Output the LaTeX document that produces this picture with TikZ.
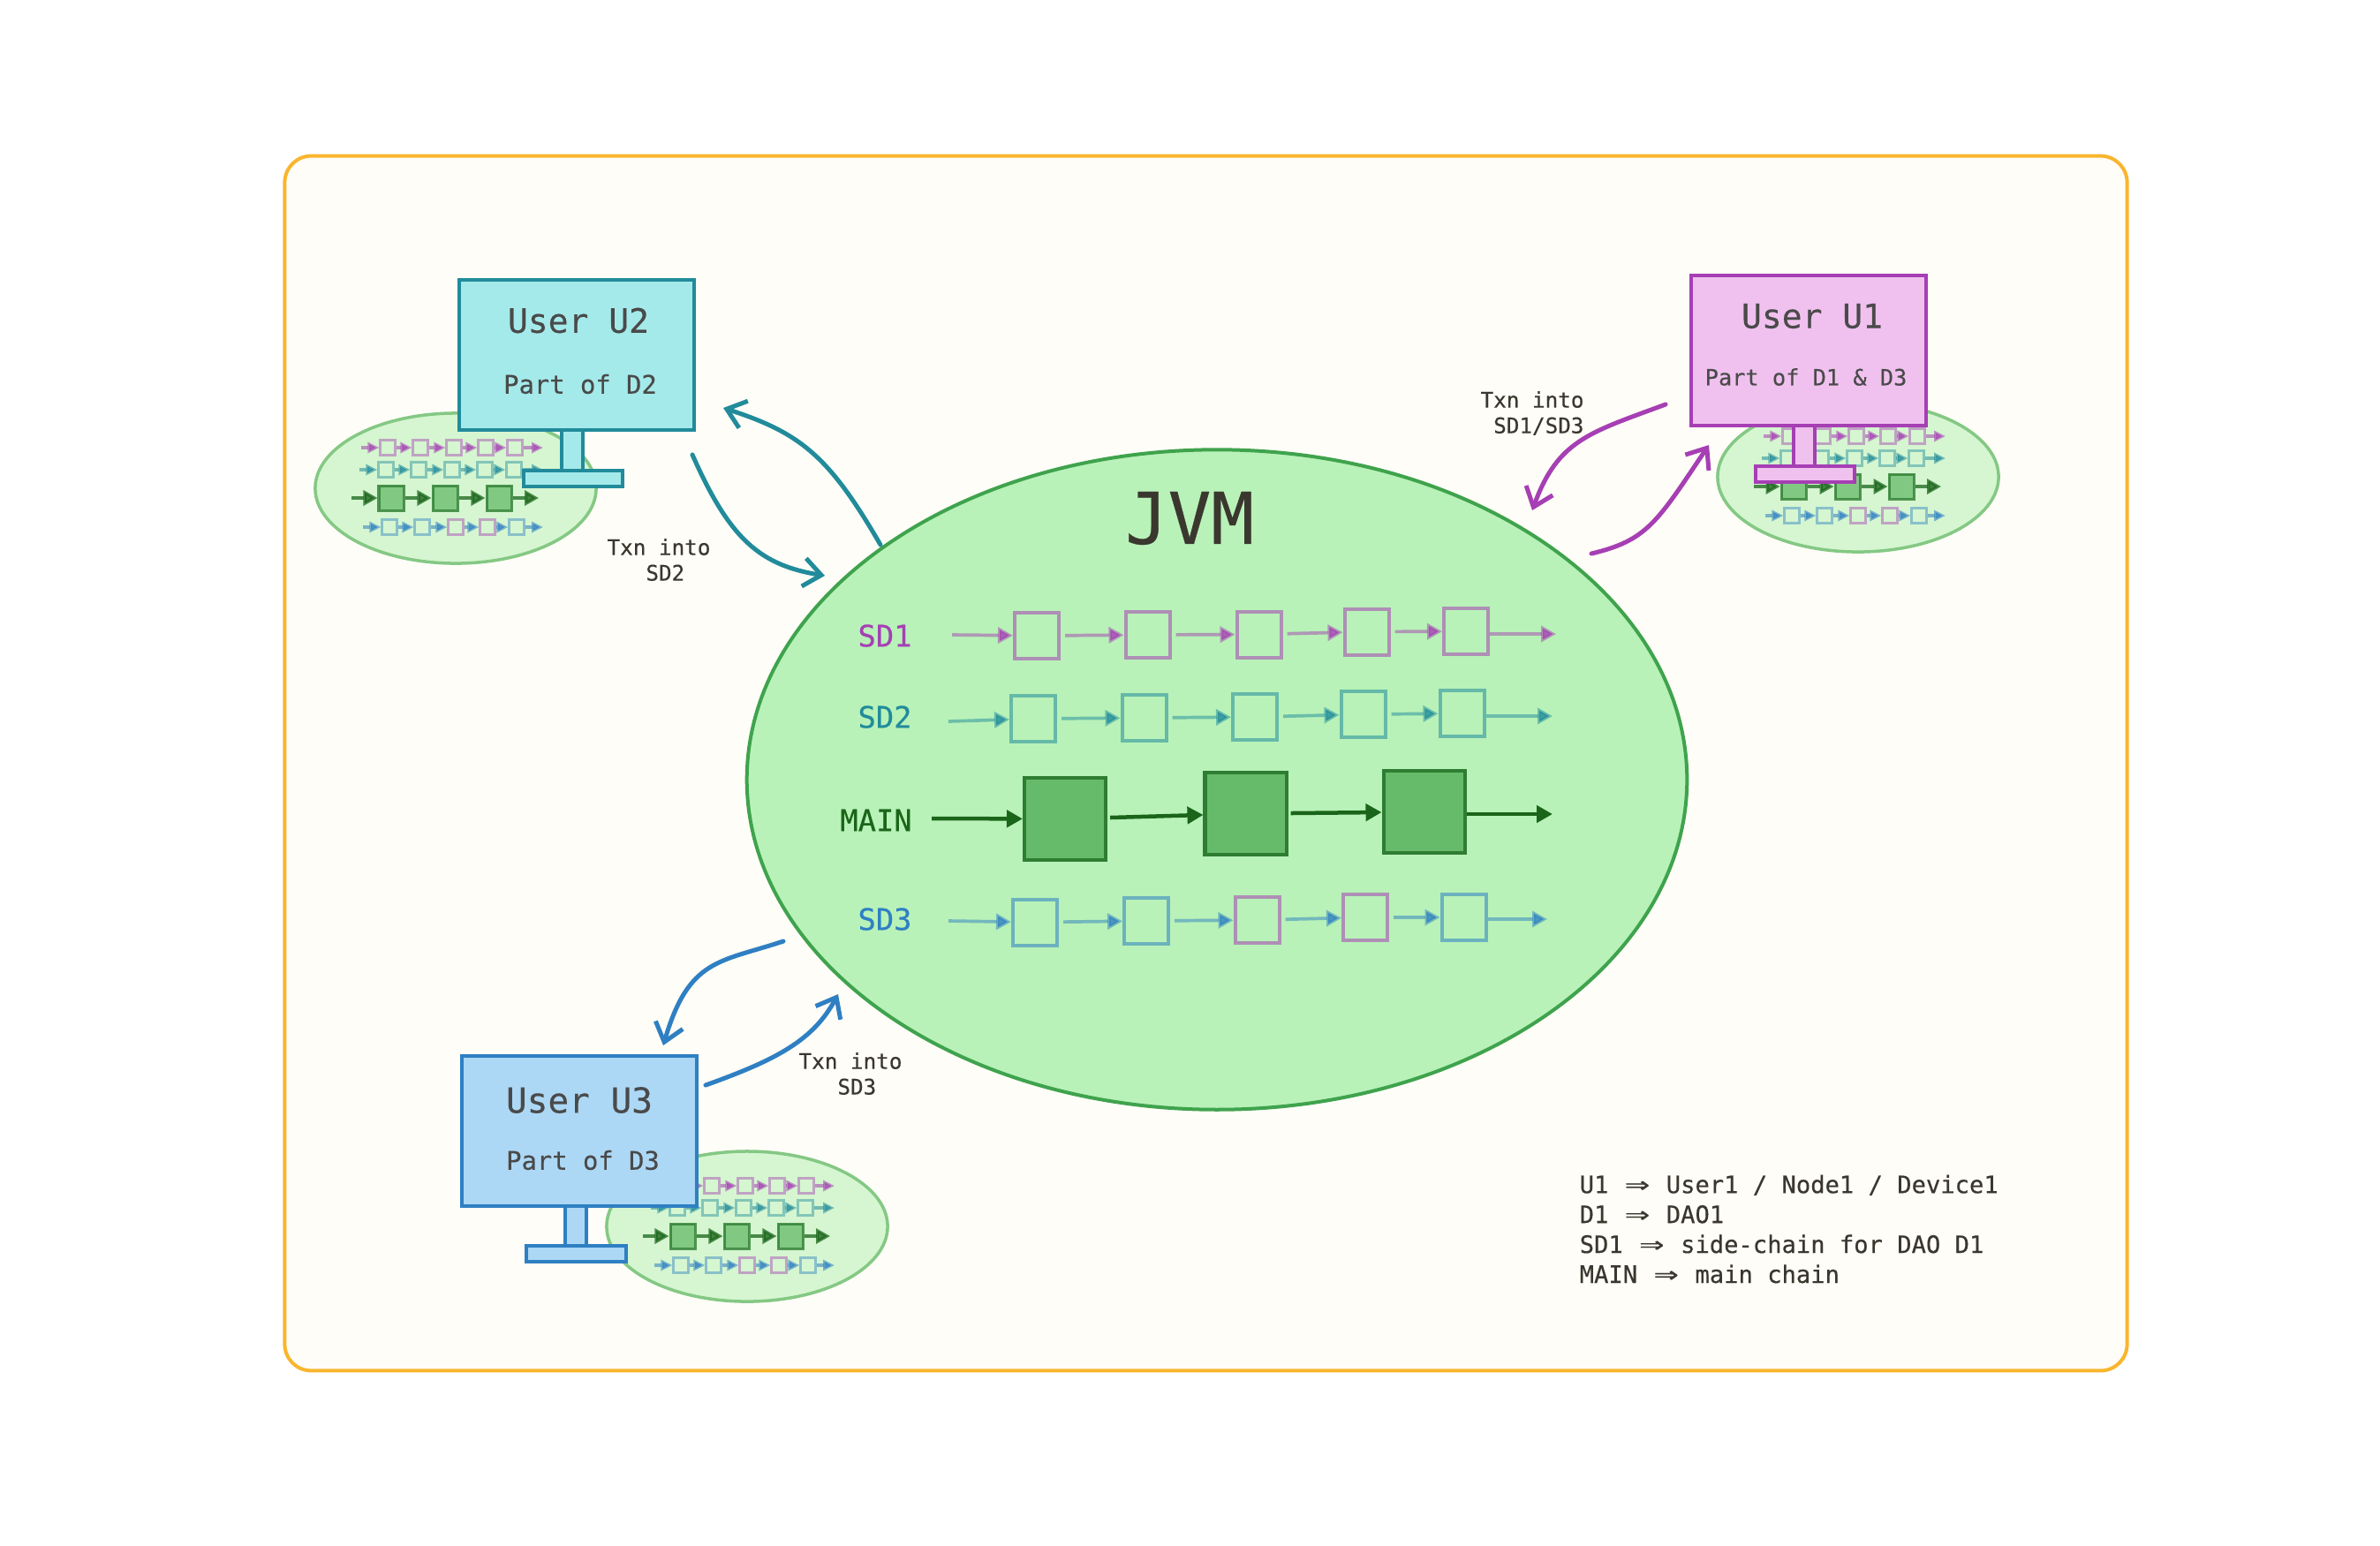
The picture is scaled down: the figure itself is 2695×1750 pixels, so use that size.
\documentclass[tikz,border=0pt]{standalone}
\usepackage{fontspec}
\setmainfont[FakeBold=0.35]{DejaVu Sans Mono}
\usepackage{tikz}
\usetikzlibrary{arrows.meta,shapes.geometric}
\definecolor{sdone}{HTML}{A63FB4}
\definecolor{sdtwo}{HTML}{218B9B}
\definecolor{sdthree}{HTML}{2F7FC3}
\definecolor{screenone}{HTML}{F0C1EF}
\definecolor{screentwo}{HTML}{A5EAEA}
\definecolor{screenthree}{HTML}{ACD8F5}
\definecolor{mainfg}{HTML}{1B651B}
\definecolor{mainbox}{HTML}{66BB6A}
\definecolor{mainline}{HTML}{2E7D32}
\definecolor{jvmfill}{HTML}{B8F2B8}
\definecolor{jvmline}{HTML}{3FA34D}
\definecolor{nodefill}{HTML}{D5F6D0}
\definecolor{nodeline}{HTML}{84C884}
\definecolor{paper}{HTML}{FFFDF7}
\definecolor{frameline}{HTML}{F9B52E}
\definecolor{inktext}{HTML}{3A372F}
\definecolor{usertext}{HTML}{4A4A4A}
\tikzstyle{frame} = [draw=frameline, line width=.04cm, fill=paper, rounded corners=.3cm]
\tikzstyle{jvm} = [ellipse, draw=jvmline, fill=jvmfill, line width=.04cm, minimum width=10.64cm, minimum height=7.47cm, inner sep=0]
\tikzstyle{sdbox} = [rectangle, draw opacity=.55, line width=.04cm, minimum width=.5cm, minimum height=.52cm, inner sep=0]
\tikzstyle{mainblock} = [rectangle, draw=mainline, fill=mainbox, line width=.04cm, minimum width=.92cm, minimum height=.93cm, inner sep=0]
\tikzstyle{sdlink} = [line width=.037cm, draw opacity=.5, fill opacity=.8, shorten <=.05cm, -{Triangle[length=.17cm,width=.18cm]}]
\tikzstyle{mainlink} = [line width=.045cm, color=mainfg, shorten <=.03cm, -{Triangle[length=.18cm,width=.19cm]}]
\tikzstyle{nodeblob} = [ellipse, draw=nodeline, fill=nodefill, line width=.035cm, minimum width=3.18cm, minimum height=1.7cm, inner sep=0]
\tikzstyle{minibox} = [rectangle, draw opacity=.45, line width=.027cm, minimum width=.165cm, minimum height=.165cm, inner sep=0]
\tikzstyle{miniblock} = [rectangle, draw=mainline, draw opacity=.8, fill=mainbox, fill opacity=.75, line width=.03cm, minimum width=.28cm, minimum height=.28cm, inner sep=0]
\tikzstyle{minilink} = [line width=.032cm, draw opacity=.55, fill opacity=.75, -{Triangle[length=.13cm,width=.12cm]}]
\tikzstyle{minimain} = [line width=.034cm, color=mainfg, draw opacity=.75, fill opacity=.8, -{Triangle[length=.16cm,width=.17cm]}]
\tikzstyle{screen} = [rectangle, line width=.04cm, minimum width=2.66cm, minimum height=1.7cm, inner sep=0]
\tikzstyle{neck} = [rectangle, line width=.04cm, minimum width=.24cm, minimum height=.48cm, inner sep=0]
\tikzstyle{base} = [rectangle, line width=.04cm, minimum width=1.12cm, minimum height=.18cm, inner sep=0]
\tikzstyle{txnlink} = [line width=.05cm, line cap=round, -{Straight Barb[length=.2cm,width=.32cm]}]
\tikzstyle{usertitle} = [color=usertext, inner sep=0, font=\fontsize{10.8}{13}\selectfont]
\tikzstyle{userpart} = [color=usertext, inner sep=0, font=\fontsize{8.2}{10}\selectfont]
\tikzstyle{sdlabel} = [inner sep=0, font=\fontsize{9.6}{12}\selectfont]
\tikzstyle{txnlabel} = [color=inktext, inner sep=0, align=center, font=\fontsize{6.9}{8.25}\selectfont]
\newcommand{\impl}{\makebox[1.204em]{\scalebox{1.7}[1.15]{⇒}}}
% one small copy of the chains, around the centre of a node ellipse
\newcommand{\minichains}[3]{
	\node [nodeblob] (#1) at (#2,#3) {};
	\begin{scope}[shift={(#2,#3)}, name prefix=#1-]
		\foreach \i/\x/\c in {1/-77/sdone,2/-40/sdone,3/-2/sdone,4/34/sdone,5/67/sdone}
			\node [minibox, draw=\c] (a\i) at (\x,-46) {};
		\foreach \i/\x/\c in {1/-79/sdtwo,2/-42/sdtwo,3/-4/sdtwo,4/33/sdtwo,5/66/sdtwo}
			\node [minibox, draw=\c] (b\i) at (\x,-21) {};
		\foreach \i/\x in {1/-73,2/-12,3/49}
			\node [miniblock] (m\i) at (\x,11) {};
		\foreach \i/\x/\c in {1/-75/sdthree,2/-38/sdthree,3/0/sdone,4/36/sdone,5/69/sdthree}
			\node [minibox, draw=\c] (c\i) at (\x,44) {};
		\coordinate (ain) at (-107,-46);
		\coordinate (aout) at (99,-46);
		\coordinate (bin) at (-109,-21);
		\coordinate (bout) at (99,-21);
		\coordinate (min) at (-118,11);
		\coordinate (mout) at (94,11);
		\coordinate (cin) at (-105,44);
		\coordinate (cout) at (99,44);
		\foreach \r/\c in {a/sdone,b/sdtwo,c/sdthree} {
			\draw [minilink, color=\c] (\r in) -- (\r 1);
			\foreach \p/\q in {1/2,2/3,3/4,4/5}
				\draw [minilink, color=\c] (\r\p) -- (\r\q);
			\draw [minilink, color=\c] (\r 5) -- (\r out);
		}
		\draw [minimain] (min) -- (m1);
		\draw [minimain] (m1) -- (m2);
		\draw [minimain] (m2) -- (m3);
		\draw [minimain] (m3) -- (mout);
	\end{scope}
}
\begin{document}
\begin{tikzpicture}[x=.01cm, y=-.01cm]
		\useasboundingbox (0,0) rectangle (2695,1750);
		\node [rectangle, minimum width=20.85cm, minimum height=13.75cm, inner sep=0, frame] (board) at (1365.5,864.5) {};
		% Place nodes
		\node [jvm] (jvm) at (1378,883) {};
		\node [inner sep=0, color=inktext, font=\fontsize{23}{28}\selectfont] (jvmtitle) at (1347,587) {JVM};
		\node [sdlabel, color=sdone] (sdonelabel) at (1002,720) {SD1};
		\node [sdlabel, color=sdtwo] (sdtwolabel) at (1002,812) {SD2};
		\node [sdlabel, color=mainfg] (mainlabel) at (992,929) {MAIN};
		\node [sdlabel, color=sdthree] (sdthreelabel) at (1002,1041) {SD3};
		\node [sdbox, draw=sdone] (sdonea) at (1174,720) {};
		\node [sdbox, draw=sdone] (sdoneb) at (1299.5,719) {};
		\node [sdbox, draw=sdone] (sdonec) at (1425.5,718.5) {};
		\node [sdbox, draw=sdone] (sdoned) at (1547.5,715.5) {};
		\node [sdbox, draw=sdone] (sdonee) at (1660,715) {};
		\node [sdbox, draw=sdtwo] (sdtwoa) at (1170,814) {};
		\node [sdbox, draw=sdtwo] (sdtwob) at (1295.5,813) {};
		\node [sdbox, draw=sdtwo] (sdtwoc) at (1421,812) {};
		\node [sdbox, draw=sdtwo] (sdtwod) at (1543.5,809) {};
		\node [sdbox, draw=sdtwo] (sdtwoe) at (1655.5,808) {};
		\node [mainblock] (maina) at (1206,927.5) {};
		\node [mainblock] (mainb) at (1410.5,921.5) {};
		\node [mainblock] (mainc) at (1612.5,919.5) {};
		\node [sdbox, draw=sdthree] (sdthreea) at (1172,1044.5) {};
		\node [sdbox, draw=sdthree] (sdthreeb) at (1298,1043) {};
		\node [sdbox, draw=sdone] (sdthreec) at (1423.5,1042) {};
		\node [sdbox, draw=sdone] (sdthreed) at (1546,1039) {};
		\node [sdbox, draw=sdthree] (sdthreee) at (1657.5,1039) {};
		\coordinate (sdonein) at (1078,719);
		\coordinate (sdoneout) at (1762,718);
		\coordinate (sdtwoin) at (1074,817);
		\coordinate (sdtwoout) at (1758,811);
		\coordinate (mainin) at (1055,927);
		\coordinate (mainout) at (1758,922);
		\coordinate (sdthreein) at (1074,1043);
		\coordinate (sdthreeout) at (1752,1041);
		% Draw edges
		\foreach \r/\c in {sdone/sdone,sdtwo/sdtwo,sdthree/sdthree} {
			\path [draw, sdlink, color=\c, shorten <=0cm] (\r in) -- (\r a);
			\path [draw, sdlink, color=\c] (\r a) -- (\r b);
			\path [draw, sdlink, color=\c] (\r b) -- (\r c);
			\path [draw, sdlink, color=\c] (\r c) -- (\r d);
			\path [draw, sdlink, color=\c] (\r d) -- (\r e);
			\path [draw, sdlink, color=\c, shorten <=0cm] (\r e.east |- \r out) -- (\r out);
		}
		\path [draw, mainlink, shorten <=0cm] (mainin) -- (maina);
		\path [draw, mainlink] (maina) -- (mainb);
		\path [draw, mainlink] (mainb) -- (mainc);
		\path [draw, mainlink, shorten <=0cm] (mainc.east |- mainout) -- (mainout);
		% Small chains held by each user
		\minichains{blobtwo}{516}{553}
		\minichains{blobone}{2104}{540}
		\minichains{blobthree}{846}{1389}
		% User U2
		\node [neck, draw=sdtwo, fill=screentwo] (necktwo) at (648,510) {};
		\node [base, draw=sdtwo, fill=screentwo] (basetwo) at (649,542) {};
		\node [screen, draw=sdtwo, fill=screentwo] (screentwo) at (653,402) {};
		\node [usertitle] (titletwo) at (655,363) {User U2};
		\node [userpart] (parttwo) at (657,435) {Part of D2};
		% User U1
		\node [neck, draw=sdone, fill=screenone] (neckone) at (2043,505) {};
		\node [base, draw=sdone, fill=screenone] (baseone) at (2043.5,537) {};
		\node [screen, draw=sdone, fill=screenone] (screenone) at (2048,397) {};
		\node [usertitle] (titleone) at (2052,358) {User U1};
		\node [userpart, font=\fontsize{7.2}{9}\selectfont] (partone) at (2045,427) {Part of D1 \& D3};
		% User U3
		\node [neck, draw=sdthree, fill=screenthree] (neckthree) at (652,1389) {};
		\node [base, draw=sdthree, fill=screenthree] (basethree) at (652.5,1420) {};
		\node [screen, draw=sdthree, fill=screenthree] (screenthree) at (656,1281) {};
		\node [usertitle, font=\fontsize{11.2}{13}\selectfont] (titlethree) at (656,1246) {User U3};
		\node [userpart] (partthree) at (660,1314) {Part of D3};
		% Transactions
		\coordinate (twoout) at (784,515);
		\coordinate (twoin) at (934,652);
		\coordinate (twoback) at (997,617);
		\coordinate (twohome) at (819,462);
		\coordinate (oneout) at (1886,458);
		\coordinate (onein) at (1735,578);
		\coordinate (oneback) at (1802,627);
		\coordinate (onehome) at (1935,504);
		\coordinate (threeout) at (887,1066);
		\coordinate (threehome) at (751,1184);
		\coordinate (threeback) at (799,1229);
		\coordinate (threein) at (949,1126);
		\draw [txnlink, color=sdtwo] (twoout) .. controls (826,610) and (860,640) .. (twoin);
		\draw [txnlink, color=sdtwo] (twoback) .. controls (938,515) and (905,490) .. (twohome);
		\draw [txnlink, color=sdone] (oneout) .. controls (1800,490) and (1764,498) .. (onein);
		\draw [txnlink, color=sdone] (oneback) .. controls (1865,612) and (1876,592) .. (onehome);
		\draw [txnlink, color=sdthree] (threeout) .. controls (815,1090) and (780,1085) .. (threehome);
		\draw [txnlink, color=sdthree] (threeback) .. controls (880,1200) and (921,1178) .. (threein);
		\node [txnlabel] (txntwo) at (746,634) {Txn into\\\ SD2};
		\node [txnlabel, align=right] (txnone) at (1735,468) {Txn into\\SD1/SD3};
		\node [txnlabel] (txnthree) at (963,1216) {Txn into\\\ SD3};
		% Legend
		\node [anchor=west, inner sep=0, align=left, color=inktext, font=\fontsize{7.72}{9.64}\selectfont] (legend) at (1788,1392) {U1 \impl{} User1 / Node1 / Device1\\D1 \impl{} DAO1\\SD1 \impl{} side-chain for DAO D1\\MAIN \impl{} main chain};
	\end{tikzpicture}
\end{document}
